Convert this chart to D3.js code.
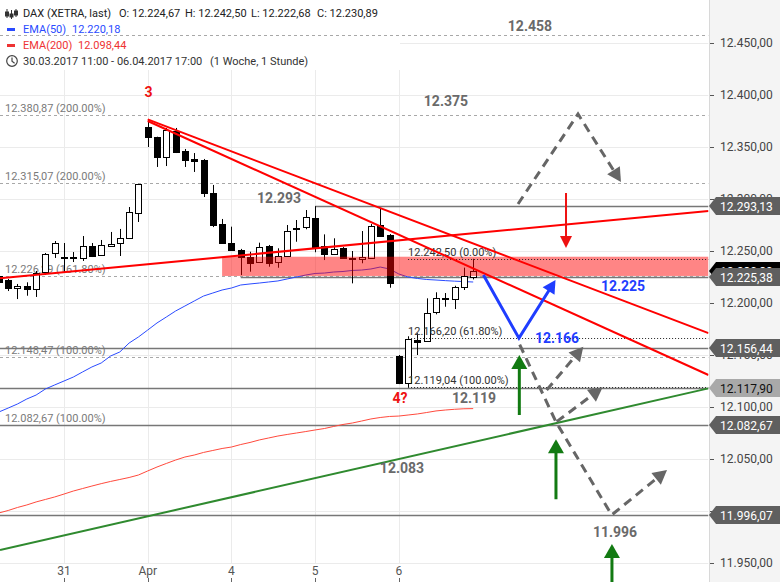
<!DOCTYPE html>
<html><head><meta charset="utf-8">
<script src="https://cdn.jsdelivr.net/npm/d3@7"></script>
<style>body{margin:0;background:#fff}svg{display:block;font-family:Roboto,"Liberation Sans",Arial,sans-serif}</style>
</head><body><svg id="c" width="780" height="582"></svg>
<script>
// ---------- DATA ----------
// hourly candles, 30.03.2017 11:00 ... 06.04.2017 17:00 (index 0..51)
const opens  = [12226.0,12222.1,12214.4,12216.6,12213.5,12229.8,12248.0,12244.2,12244.7,12243.3,12254.8,12246.2,12255.1,12257.7,12262.5,12286.5,12369.2,12359.6,12340.4,12365.4,12346.2,12338.0,12337.5,12305.8,12276.0,12258.0,12251.0,12244.2,12239.4,12254.8,12239.1,12245.2,12272.1,12272.8,12282.0,12254.8,12246.8,12252.6,12243.0,12242.3,12243.6,12275.0,12265.4,12149.0,12122.8,12164.4,12163.5,12191.6,12204.5,12203.8,12215.7,12224.67];
const highs  = [12229.8,12223.1,12218.3,12219.9,12230.8,12248.1,12259.6,12257.7,12249.0,12264.4,12257.7,12260.6,12268.3,12271.2,12292.3,12314.5,12376.4,12359.9,12368.3,12368.3,12348.1,12344.2,12338.5,12313.5,12280.8,12273.4,12252.0,12249.3,12258.0,12255.8,12252.6,12275.0,12279.8,12289.4,12293.1,12266.0,12262.2,12253.8,12250.0,12269.2,12275.9,12291.1,12266.3,12150.0,12168.0,12170.9,12204.5,12210.3,12209.6,12216.6,12234.0,12242.50];
const lows   = [12217.3,12211.5,12203.8,12207.0,12205.8,12226.9,12243.3,12229.8,12239.4,12240.4,12244.2,12245.7,12254.3,12245.2,12261.5,12277.9,12350.0,12330.8,12331.7,12344.2,12330.8,12326.0,12301.9,12273.0,12257.2,12250.0,12226.9,12230.1,12239.0,12234.9,12233.9,12244.7,12258.9,12270.9,12248.8,12241.3,12246.6,12242.3,12218.9,12238.2,12243.3,12263.5,12214.7,12122.0,12119.04,12150.0,12163.0,12189.1,12196.4,12194.2,12212.5,12222.68];
const closes = [12220.2,12214.4,12216.3,12213.2,12228.8,12247.1,12257.7,12243.3,12242.8,12254.8,12245.2,12255.8,12257.2,12262.5,12287.5,12314.4,12359.6,12340.4,12366.3,12345.2,12337.5,12337.0,12305.8,12275.0,12257.7,12251.0,12244.5,12238.8,12253.6,12238.8,12245.2,12269.2,12271.4,12283.0,12254.1,12246.8,12251.6,12243.0,12242.6,12244.2,12274.0,12264.7,12218.9,12122.8,12165.1,12162.8,12190.7,12204.5,12204.1,12215.1,12226.3,12230.89];
const ema50  = [12095.2,12099.0,12102.9,12107.7,12111.5,12117.3,12121.2,12125.0,12128.8,12133.7,12138.5,12142.3,12149.0,12152.9,12161.5,12167.3,12174.0,12180.8,12186.5,12192.3,12197.1,12201.9,12206.7,12209.6,12212.5,12214.4,12217.3,12218.3,12219.2,12220.2,12221.2,12223.1,12225.0,12226.9,12228.4,12228.8,12229.8,12230.3,12231.3,12231.7,12232.7,12234.6,12232.7,12227.9,12225.0,12223.6,12222.6,12222.1,12221.5,12221.0,12220.6,12220.18];
const ema200 = [11998.1,12000.5,12003.4,12005.8,12008.7,12011.1,12013.5,12016.3,12019.2,12021.6,12024.0,12026.3,12028.4,12030.3,12032.2,12034.6,12038.5,12042.3,12045.7,12049.0,12051.9,12053.8,12056.3,12058.2,12060.1,12061.5,12063.9,12065.9,12068.3,12070.2,12072.1,12073.6,12075.0,12076.4,12077.9,12079.3,12081.3,12083.2,12084.6,12086.5,12088.5,12089.9,12090.9,12091.3,12092.3,12093.3,12094.7,12096.2,12097.1,12097.8,12098.3,12098.44];
const dayLabels = ["31","Apr","4","5","6"];
const dayIndex  = [7,16,25,34,43];
const priceTicks = [11950,12000,12050,12100,12150,12200,12250,12300,12350,12400,12450];
const legendOHLC = [12224.67,12242.50,12222.68,12230.89];
const legendEMA = [12220.18,12098.44];
const legendPeriod = "30.03.2017 11:00 - 06.04.2017 17:00";
const legendInterval = "(1 Woche, 1 Stunde)";
// fib levels (gray dashed, left labels)
const fibLevels = [12380.87,12315.07,12226.29,12148.47,12082.67];
const fibPct    = ["200.00%","200.00%","161.80%","100.00%","100.00%"];
// fib levels (black dotted)
const fib2Levels = [12242.50,12166.20,12119.04];
const fib2Pct    = ["0.00%","61.80%","100.00%"];
const fib2Start  = 44;
// horizontal solid levels [price, start index]
const hLevels = [[12293.13,34],[12225.38,26],[12156.44,0],[12117.90,0],[12082.67,0],[11996.07,0]];
const topLevel = 12458;
// right price tags
const tagBlack = 12230.89;
const tagDark = [12293.13,12225.38,12156.44,12082.67,11996.07];
const tagLight = [12117.90];
// trend lines [index, price]
const redLineA = [[16,12376.5],[76.3,12171.0]];
const redLineB = [[16,12375.0],[76.3,12130.8]];
const redRising = [[0.12,12223.8],[76.3,12288.5]];
const greenLine = [[0.12,11962.5],[76.3,12117.9]];
const zone = {i0:24.0, i1:76.3, p0:12226.0, p1:12244.5};
// projections
const blueZig = [[52.1,12226.9],[55.92,12166.2],[59.85,12222.1]];
const dashUp = [[55.82,12295.2],[62.27,12381.7],[66.89,12316.3]];
const dashDown = [[56.0,12160.0],[59.9,12085.6],[65.89,11996.2],[71.84,12039.4]];
const dashC = [[58.9,12116.3],[62.84,12158.0]];
const dashD = [[59.98,12085.9],[64.92,12118.9]];
const greenArrows = [[55.96,12092.3,12150.0],[59.9,12011.3,12068.9],[65.92,11931.7,11968.3]];
const redArrow = [60.98,12305.8,12252.9];
const grayLabels = [["12.458",57.1,12461.5],["12.375",48.07,12389.4],["12.293",30.12,12296.2],["12.083",43.34,12036.5],["12.119",51.09,12103.8],["11.996",66.25,11975.0]];
const blueLabels = [["12.225",67.11,12211.5],["12.166",60.01,12161.5]];
const redLabels = [["3",16.1,12398.1],["4?",43.13,12103.8]];

// ---------- CHART ----------
const svg = d3.select('#c');
const PR = 708.5;
const x = d3.scaleLinear().domain([0,51]).range([-1.1,473.2]);
const y = d3.scaleLinear().domain([11950,12450]).range([563,43]);
const loc = d3.formatLocale({decimal:",",thousands:".",grouping:[3],currency:["",""]});
const f2 = loc.format(",.2f");

svg.append('rect').attr('width',780).attr('height',582).attr('fill','#fff');
svg.append('rect').attr('x',709).attr('width',71).attr('height',582).attr('fill','#f4f4f4');
svg.append('line').attr('x1',709.5).attr('x2',709.5).attr('y1',0).attr('y2',582).attr('stroke','#d8d8d8');

svg.append('defs').append('clipPath').attr('id','pc').append('rect').attr('width',PR).attr('height',582);
const plot = svg.append('g').attr('clip-path','url(#pc)');

// gridlines
plot.selectAll('.hg').data(priceTicks).join('line')
  .attr('x1',0).attr('x2',PR).attr('y1',d=>Math.round(y(d))+0.5).attr('y2',d=>Math.round(y(d))+0.5)
  .attr('stroke','#ebebeb');
plot.selectAll('.vg').data(dayIndex).join('line')
  .attr('x1',d=>Math.round(x(d))+0.5).attr('x2',d=>Math.round(x(d))+0.5).attr('y1',0).attr('y2',563)
  .attr('stroke','#ebebeb');

// legend background (covers gridlines only)
plot.append('rect').attr('x',0).attr('y',0).attr('width',400).attr('height',70).attr('fill','#fff');

// dashed fib lines
const hl = p=>Math.round(y(p))+0.5;
plot.append('line').attr('x1',0).attr('x2',PR).attr('y1',hl(topLevel)).attr('y2',hl(topLevel))
  .attr('stroke','#a8a8a8').attr('stroke-dasharray','3,3');
plot.selectAll('.fib').data(fibLevels).join('line')
  .attr('x1',0).attr('x2',PR).attr('y1',d=>hl(d)).attr('y2',d=>hl(d))
  .attr('stroke','#a8a8a8').attr('stroke-dasharray','3,3');
plot.selectAll('.fibt').data(fibLevels).join('text')
  .attr('x',5).attr('y',d=>y(d)-3).attr('font-size',11).attr('fill','#7a7a7a')
  .text((d,i)=>f2(d)+' ('+fibPct[i]+')');

// solid gray levels
plot.selectAll('.hl').data(hLevels).join('line')
  .attr('x1',d=>d[1]===0?0:x(d[1])).attr('x2',PR).attr('y1',d=>hl(d[0])).attr('y2',d=>hl(d[0]))
  .attr('stroke','#777').attr('stroke-width',1.3);

// EMAs
const lineGen = d3.line().x((d,i)=>x(i)).y(d=>y(d));
plot.append('path').attr('d',lineGen(ema200)).attr('fill','none').attr('stroke','#ff4a3d').attr('stroke-width',1);
plot.append('path').attr('d',lineGen(ema50)).attr('fill','none').attr('stroke','#2a4bff').attr('stroke-width',1);

// candles
const cg = plot.append('g');
opens.forEach((o,i)=>{
  const c=closes[i], h=highs[i], l=lows[i];
  const cx=Math.round(x(i))+0.5;
  cg.append('line').attr('x1',cx).attr('x2',cx).attr('y1',y(h)).attr('y2',y(l)).attr('stroke','#000');
  const top=Math.round(y(Math.max(o,c)))+0.5, bot=Math.round(y(Math.min(o,c)))+0.5;
  cg.append('rect').attr('x',cx-3).attr('y',top).attr('width',6).attr('height',Math.max(1,bot-top))
    .attr('fill',c>=o?'#fff':'#000').attr('stroke','#000');
});

// zone
plot.append('rect').attr('x',x(zone.i0)).attr('width',x(zone.i1)-x(zone.i0))
  .attr('y',y(zone.p1)).attr('height',y(zone.p0)-y(zone.p1)).attr('fill','#ff0000').attr('opacity',0.48);

// dotted black fib
plot.selectAll('.fib2').data(fib2Levels).join('line')
  .attr('x1',x(fib2Start)).attr('x2',PR).attr('y1',d=>hl(d)).attr('y2',d=>hl(d))
  .attr('stroke','#222').attr('stroke-dasharray','1,2');
plot.selectAll('.fib2t').data(fib2Levels).join('text')
  .attr('x',x(fib2Start)).attr('y',d=>y(d)-3).attr('font-size',11).attr('fill','#333')
  .text((d,i)=>f2(d)+' ('+fib2Pct[i]+')');

// trend lines
const seg = d3.line().x(d=>x(d[0])).y(d=>y(d[1]));
[redLineA,redLineB,redRising].forEach(L=>plot.append('path').attr('d',seg(L)).attr('fill','none').attr('stroke','#ff0000').attr('stroke-width',2));
plot.append('path').attr('d',seg(greenLine)).attr('fill','none').attr('stroke','#2f8a2f').attr('stroke-width',2);

// arrows helper
function arrow(pts,color,width,dash,L,w){
  const P=pts.map(d=>[x(d[0]),y(d[1])]);
  const n=P.length, a=P[n-2], b=P[n-1];
  const ang=Math.atan2(b[1]-a[1],b[0]-a[0]);
  const bx=b[0]-L*Math.cos(ang), by=b[1]-L*Math.sin(ang);
  const S=P.slice(0,n-1).concat([[b[0]-L*0.7*Math.cos(ang), b[1]-L*0.7*Math.sin(ang)]]);
  const p=plot.append('path').attr('d',d3.line()(S)).attr('fill','none').attr('stroke',color).attr('stroke-width',width).attr('stroke-linejoin','miter');
  if(dash) p.attr('stroke-dasharray',dash);
  const px=-Math.sin(ang)*w, py=Math.cos(ang)*w;
  plot.append('path').attr('d',`M${b[0]},${b[1]}L${bx+px},${by+py}L${bx-px},${by-py}Z`).attr('fill',color);
}
arrow(dashUp,'#666',3,'9,6',14,7.5);
arrow(dashDown,'#666',3,'9,6',14,7.5);
arrow(dashC,'#666',3,'9,6',14,7.5);
arrow(dashD,'#666',3,'9,6',14,7.5);
arrow(blueZig,'#1f3dff',3,null,13,7);
greenArrows.forEach(g=>arrow([[g[0],g[1]],[g[0],g[2]]],'#127a12',3,null,14,8));
arrow([[redArrow[0],redArrow[1]],[redArrow[0],redArrow[2]]],'#ee1111',2,null,12,6);

// labels
const lab=(arr,color)=>plot.selectAll(null).data(arr).join('text')
  .attr('x',d=>x(d[1])).attr('y',d=>y(d[2])).attr('text-anchor','middle')
  .attr('font-size',14).attr('font-weight','bold').attr('fill',color).text(d=>d[0]);
lab(grayLabels,'#6a6a6a'); lab(blueLabels,'#1f3dff'); lab(redLabels,'#ee1111');

// bottom axis
svg.selectAll('.dl').data(dayIndex).join('text')
  .attr('x',d=>x(d)).attr('y',575).attr('text-anchor','middle').attr('font-size',12).attr('fill','#555')
  .text((d,i)=>dayLabels[i]);
svg.selectAll('.dt').data(dayIndex).join('line')
  .attr('x1',d=>Math.round(x(d))+0.5).attr('x2',d=>Math.round(x(d))+0.5).attr('y1',578).attr('y2',582).attr('stroke','#666');

// right axis
const ax = svg.append('g').attr('transform','translate(710,0)')
  .call(d3.axisRight(y).tickValues(priceTicks).tickSize(4).tickPadding(6).tickFormat(f2));
ax.select('.domain').remove();
ax.selectAll('line').attr('stroke','#555');
ax.selectAll('text').attr('font-size',12).attr('fill','#444').attr('font-family','Roboto,Arial,sans-serif');

// price tags
function tag(v,fill,tc){
  const yc=Math.round(y(v));
  svg.append('path').attr('d',`M709,${yc}L716,${yc-9}L780,${yc-9}L780,${yc+9}L716,${yc+9}Z`).attr('fill',fill);
  svg.append('text').attr('x',720).attr('y',yc+4.5).attr('font-size',12).attr('fill',tc).text(f2(v));
}
tag(tagBlack,'#000','#fff');
tagDark.forEach(v=>tag(v,'#5f5f5f','#fff'));
tagLight.forEach(v=>tag(v,'#a9a9a9','#111'));

// legend
const lg = svg.append('g').attr('font-size',11);
const ic = lg.append('g').attr('stroke','#333').attr('fill','#333');
[[7,9,18,12,4],[11.5,10,19,14,3],[16,9,17,11,4]].forEach(c=>{
  ic.append('line').attr('x1',c[0]).attr('x2',c[0]).attr('y1',c[1]).attr('y2',c[2]);
  ic.append('rect').attr('x',c[0]-1.5).attr('y',c[3]).attr('width',3).attr('height',c[4]);
});
const t1 = lg.append('text').attr('y',17).attr('fill','#222');
t1.append('tspan').attr('x',23).text('DAX (XETRA, last)');
['O','H','L','C'].forEach((k,i)=>t1.append('tspan').attr('x',119+i*66).text(k+': '+f2(legendOHLC[i])));
lg.append('rect').attr('x',7).attr('y',28).attr('width',8).attr('height',3).attr('fill','#2a4bff');
lg.append('text').attr('x',23).attr('y',33).attr('fill','#2a4bff').text('EMA(50)');
lg.append('text').attr('x',72).attr('y',33).attr('fill','#2a4bff').text(f2(legendEMA[0]));
lg.append('rect').attr('x',7).attr('y',44).attr('width',8).attr('height',3).attr('fill','#ee3333');
lg.append('text').attr('x',23).attr('y',49).attr('fill','#ee3333').text('EMA(200)');
lg.append('text').attr('x',78).attr('y',49).attr('fill','#ee3333').text(f2(legendEMA[1]));
lg.append('circle').attr('cx',12).attr('cy',61).attr('r',5.3).attr('fill','none').attr('stroke','#444').attr('stroke-width',1.2);
lg.append('path').attr('d','M12,57.5V61.3L14.6,63.2').attr('fill','none').attr('stroke','#444').attr('stroke-width',1.2);
lg.append('text').attr('x',23).attr('y',65).attr('fill','#333').text(legendPeriod);
lg.append('text').attr('x',210).attr('y',65).attr('fill','#333').text(legendInterval);
</script></body></html>
